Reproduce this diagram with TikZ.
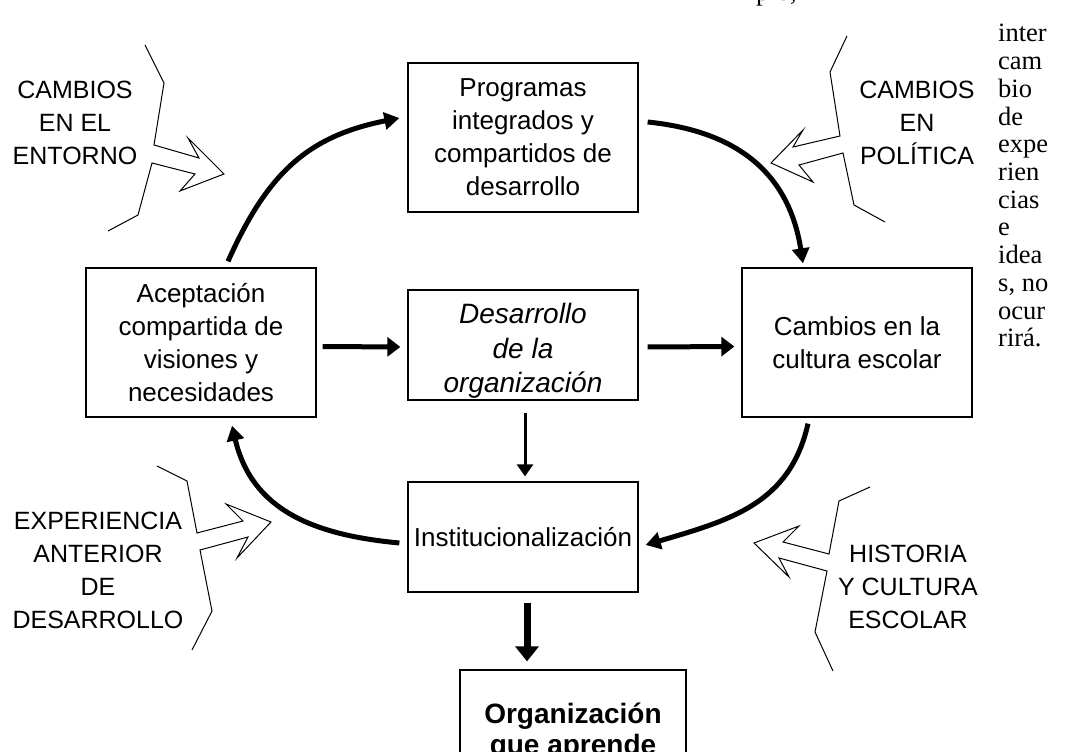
\documentclass[tikz,border=0pt]{standalone}
\usepackage{fontspec}
\setmainfont{Liberation Serif}
\setsansfont{Liberation Sans}
\usetikzlibrary{arrows.meta, positioning}

\begin{document}
\begin{tikzpicture}[x=1pt, y=-1pt,
    every node/.style={font=\sffamily\fontsize{26}{33}\selectfont},
    caja/.style={draw, line width=1.3pt, align=center, minimum width=230pt,
                 inner sep=0pt},
    etiqueta/.style={font=\sffamily\fontsize{25}{33}\selectfont, align=center},
    texto/.style={font=\rmfamily\fontsize{26.5}{28}\selectfont, anchor=base west,
                  inner sep=0pt},
    ciclo/.style={line width=5pt, -{Triangle[length=15pt, width=17pt]}},
    flecha/.style={line width=5pt, -{Triangle[length=13pt, width=19pt]}},
    rayo/.style={line width=1pt, line join=miter},
  ]
  \useasboundingbox (0,0) rectangle (1085,752);

  % cajas
  \node[caja, minimum height=149pt] (prog) at (523,137.5)
    {Programas\\integrados y\\compartidos de\\desarrollo};
  \node[caja, minimum height=149pt] (acep) at (201,342.5)
    {Aceptación\\compartida de\\visiones y\\necesidades};
  \node[caja, minimum height=110pt] (des) at (523,345) {};
  \node[align=center, inner sep=0pt,
        font=\sffamily\itshape\fontsize{28}{34.5}\selectfont] (desT)
    at ([yshift=-6pt]des.center) {Desarrollo\\de la\\organización};
  \node[caja, minimum height=149pt] (camb) at (857,342.5)
    {Cambios en la\\cultura escolar};
  \node[caja, minimum height=110pt] (inst) at (523,537)
    {Institucionalización};
  \node[caja, minimum width=226pt, minimum height=124pt,
        font=\sffamily\bfseries\fontsize{28}{31}\selectfont] (org) at (573,732)
    {Organización\\que aprende};

  % ciclo
  \draw[ciclo] ([xshift=27pt, yshift=6pt]acep.north)
    .. controls +(40,-90) and +(-90,18) .. ([xshift=-8pt, yshift=19.5pt]prog.west);
  \draw[ciclo] ([xshift=9pt, yshift=15.5pt]prog.east)
    .. controls +(98,10) and +(-13,-83) .. ([xshift=-54pt, yshift=4pt]camb.north);
  \draw[ciclo] ([xshift=-49pt, yshift=-6pt]camb.south)
    .. controls +(-18,80) and +(85,-25) .. ([xshift=7pt, yshift=-8pt]inst.east);
  \draw[ciclo] ([xshift=-8pt, yshift=-6pt]inst.west)
    .. controls +(-85,-8) and +(20,85) .. ([xshift=31pt, yshift=-8pt]acep.south);

  % flechas rectas
  \draw[flecha, shorten <=6pt, shorten >=7pt] ([yshift=-4pt]acep.east) -- (des.west |- 0,347);
  \draw[flecha, shorten <=9pt, shorten >=7pt] (des.east |- 0,347) -- ([yshift=-4pt]camb.west);
  \draw[line width=3pt, -{Triangle[length=12pt, width=16pt]},
        shorten <=12pt, shorten >=5pt] ([xshift=2pt]des.south) -- ([xshift=2pt]inst.north);
  \draw[line width=7pt, -{Triangle[length=15pt, width=23pt]},
        shorten <=10pt, shorten >=8pt] ([xshift=4pt]inst.south) -- ([xshift=4pt]inst.south |- org.north);

  % influencias externas
  \draw[rayo] (145,45) -- (164,83) -- (154,145) -- (199,158) -- (188,138) -- (224,174)
    -- (180,191) -- (195,174) -- (152,163) -- (138,215) -- (108,231);
  \draw[rayo] (847,36) -- (830,72) -- (840,136) -- (793,147) -- (803,130) -- (771,163)
    -- (813,182) -- (799,165) -- (843,153) -- (854,205) -- (885,222);
  \draw[rayo] (157,466) -- (187,481) -- (197,533) -- (243,521) -- (226,504) -- (271,522)
    -- (237,558) -- (248,537) -- (200,550) -- (212,611) -- (192,650);
  \draw[rayo] (870,487) -- (839,501) -- (829,554) -- (783,542) -- (799,526) -- (754,543)
    -- (789,577) -- (779,558) -- (827,571) -- (815,632) -- (833,671);

  \node[etiqueta] (entorno) at (75,123) {CAMBIOS\\EN EL\\ENTORNO};
  \node[etiqueta] (politica) at (917,123) {CAMBIOS\\EN\\POLÍTICA};
  \node[etiqueta] (experiencia) at (98,570) {EXPERIENCIA\\ANTERIOR\\DE\\DESARROLLO};
  \node[etiqueta] (historia) at (908,587) {HISTORIA\\Y CULTURA\\ESCOLAR};

  % texto del margen
  \node[texto] (arriba) at (756,1) {pio,};
  \foreach \w [count=\i] in {inter,cam,bio,de,expe,rien,cias,e,idea,{s, no},ocur,rirá.}
    \node[texto] (t\i) at (998,14.3+27.7*\i) {\w};
\end{tikzpicture}
\end{document}
